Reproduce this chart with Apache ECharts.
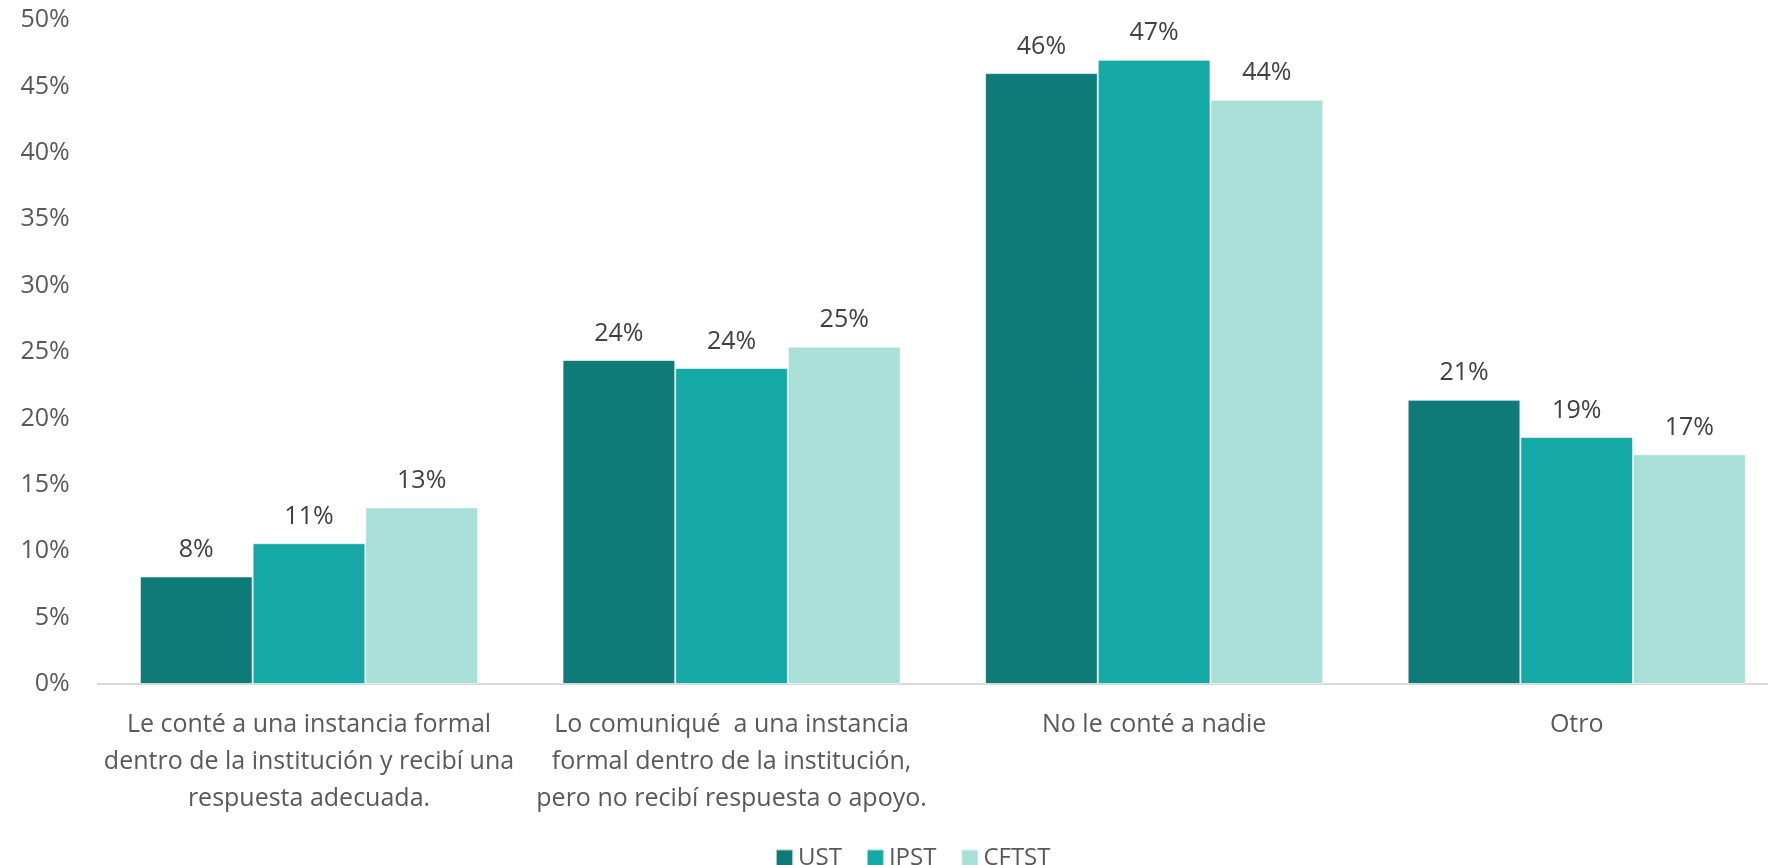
<!DOCTYPE html>
<html>
<head>
<meta charset="utf-8">
<script src="https://cdn.jsdelivr.net/npm/echarts@6/dist/echarts.min.js"></script>
<style>html,body{margin:0;padding:0;background:#fff;overflow:hidden;}#c{width:1788px;height:865px;}</style>
</head>
<body>
<div id="c"></div>
<script>
const categories = [
  'Le conté a una instancia formal\ndentro de la institución y recibí una\nrespuesta adecuada.',
  'Lo comuniqué  a una instancia\nformal dentro de la institución,\npero no recibí respuesta o apoyo.',
  'No le conté a nadie',
  'Otro'
];
const seriesNames = ['UST', 'IPST', 'CFTST'];
const ust = [8.1, 24.4, 46.0, 21.4];
const ipst = [10.6, 23.8, 47.0, 18.6];
const cftst = [13.3, 25.4, 44.0, 17.3];
const yTicks = [0, 5, 10, 15, 20, 25, 30, 35, 40, 45, 50];
const colors = ['#0F7B78', '#14A9A5', '#A8DFD8'];

const font = "'Open Sans', 'Noto Sans', sans-serif";
const chart = echarts.init(document.getElementById('c'));
const mk = (name, data, color) => ({
  name: name,
  type: 'bar',
  data: data,
  barGap: '0%',
  barCategoryGap: '20%',
  itemStyle: { color: color, borderColor: 'rgba(255,255,255,0.6)', borderWidth: 1 },
  label: {
    show: true,
    position: 'top',
    distance: 14,
    formatter: p => Math.round(p.value) + '%',
    color: '#404040',
    fontFamily: font,
    fontSize: 25
  }
});
chart.setOption({
  animation: false,
  color: colors,
  grid: { left: 97.7, right: 0, top: 20, bottom: 181, containLabel: false },
  legend: {
    data: seriesNames,
    left: 770,
    top: 841,
    itemWidth: 17,
    itemHeight: 17,
    itemGap: 24,
    icon: 'rect',
    textStyle: { color: '#595959', fontFamily: font, fontSize: 24, padding: [0, 0, 0, 0] }
  },
  xAxis: {
    type: 'category',
    data: categories,
    axisLine: { show: true, lineStyle: { color: '#D9D9D9', width: 2 } },
    axisTick: { show: false },
    axisLabel: {
      interval: 0,
      margin: 22,
      color: '#595959',
      fontFamily: font,
      fontSize: 25,
      lineHeight: 37,
      align: 'center'
    }
  },
  yAxis: {
    type: 'value',
    min: yTicks[0],
    max: yTicks[yTicks.length - 1],
    interval: 5,
    splitLine: { show: false },
    axisLine: { show: false },
    axisTick: { show: false },
    axisLabel: {
      margin: 28,
      formatter: '{value}%',
      color: '#595959',
      fontFamily: font,
      fontSize: 25
    }
  },
  series: [
    mk(seriesNames[0], ust, colors[0]),
    mk(seriesNames[1], ipst, colors[1]),
    mk(seriesNames[2], cftst, colors[2])
  ]
});
</script>
</body>
</html>
